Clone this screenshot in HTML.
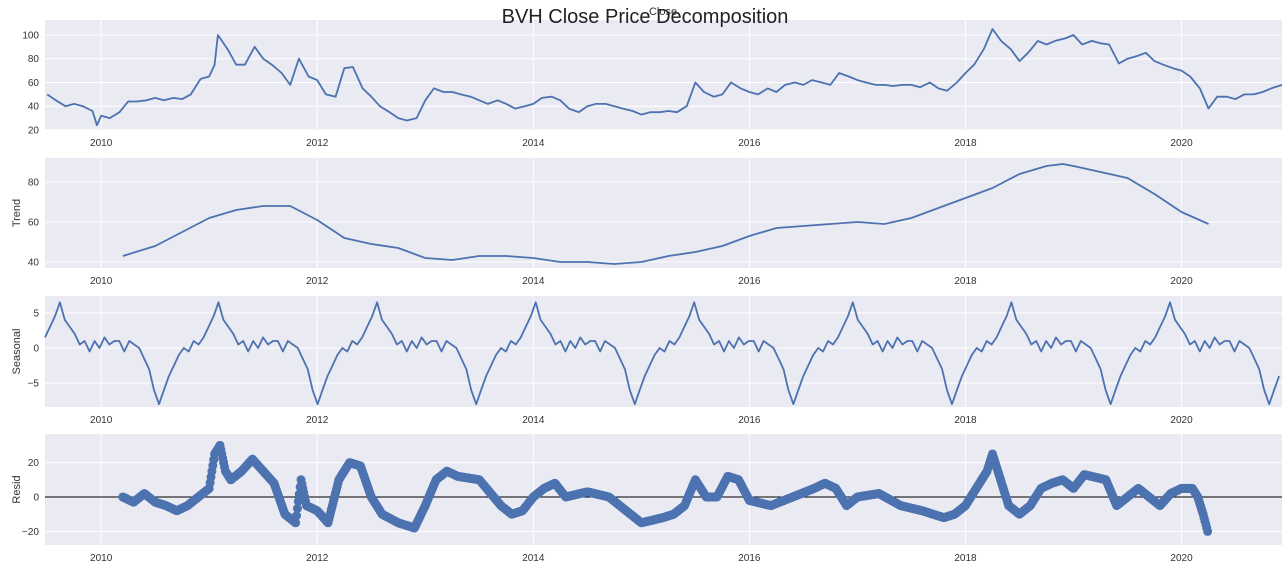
<!DOCTYPE html>
<html><head><meta charset="utf-8"><style>
body{margin:0;background:#fff;width:1288px;height:568px;overflow:hidden;font-family:"Liberation Sans",sans-serif}
svg text{font-family:"Liberation Sans",sans-serif}
</style></head><body>
<svg id="c" width="1288" height="568"></svg>
<script>
const closeYears=[2009.5,2009.58,2009.67,2009.75,2009.83,2009.92,2009.96,2010.0,2010.08,2010.17,2010.25,2010.33,2010.42,2010.5,2010.58,2010.67,2010.75,2010.83,2010.92,2011.0,2011.05,2011.08,2011.17,2011.25,2011.33,2011.42,2011.5,2011.58,2011.67,2011.75,2011.83,2011.92,2012.0,2012.08,2012.17,2012.25,2012.33,2012.42,2012.5,2012.58,2012.67,2012.75,2012.83,2012.92,2013.0,2013.08,2013.17,2013.25,2013.33,2013.42,2013.5,2013.58,2013.67,2013.75,2013.83,2013.92,2014.0,2014.08,2014.17,2014.25,2014.33,2014.42,2014.5,2014.58,2014.67,2014.75,2014.83,2014.92,2015.0,2015.08,2015.17,2015.25,2015.33,2015.42,2015.5,2015.58,2015.67,2015.75,2015.83,2015.92,2016.0,2016.08,2016.17,2016.25,2016.33,2016.42,2016.5,2016.58,2016.67,2016.75,2016.83,2016.92,2017.0,2017.08,2017.17,2017.25,2017.33,2017.42,2017.5,2017.58,2017.67,2017.75,2017.83,2017.92,2018.0,2018.08,2018.17,2018.25,2018.33,2018.42,2018.5,2018.58,2018.67,2018.75,2018.83,2018.92,2019.0,2019.08,2019.17,2019.25,2019.33,2019.42,2019.5,2019.58,2019.67,2019.75,2019.83,2019.92,2020.0,2020.08,2020.17,2020.25,2020.33,2020.42,2020.5,2020.58,2020.67,2020.75,2020.83,2020.93];
const closeVals=[50,45,40,42,40,36,24,32,30,35,44,44,45,47,45,47,46,50,63,65,75,100,88,75,75,90,80,75,68,58,80,65,62,50,48,72,73,55,48,40,35,30,28,30,45,55,52,52,50,48,45,42,45,42,38,40,42,47,48,45,38,35,40,42,42,40,38,36,33,35,35,36,35,40,60,52,48,50,60,55,52,50,55,52,58,60,58,62,60,58,68,65,62,60,58,58,57,58,58,56,60,55,53,60,68,75,88,105,95,88,78,85,95,92,95,97,100,92,95,93,92,76,80,82,85,78,75,72,70,65,55,38,48,48,46,50,50,52,55,58];
const trendYears=[2010.2,2010.5,2010.75,2011.0,2011.25,2011.5,2011.75,2012.0,2012.25,2012.5,2012.75,2013.0,2013.25,2013.5,2013.75,2014.0,2014.25,2014.5,2014.75,2015.0,2015.25,2015.5,2015.75,2016.0,2016.25,2016.5,2016.75,2017.0,2017.25,2017.5,2017.75,2018.0,2018.25,2018.5,2018.75,2018.9,2019.0,2019.25,2019.5,2019.75,2020.0,2020.25];
const trendVals=[43,48,55,62,66,68,68,61,52,49,47,42,41,43,43,42,40,40,39,40,43,45,48,53,57,58,59,60,59,62,67,72,77,84,88,89,88,85,82,74,65,59];
const seasonalCycle=[-8,-6,-4,-2.5,-1,0,-0.5,1,0.5,1.5,3,4.5,6.5,4,3,2,0.5,1,-0.5,1,0,1.5,0.5,1,1,-0.5,1,0.5,0,-1.5,-3,-6];
const seasonStart=2010.55, seasonPeriod=1.468;
const residYears=[2010.2,2010.3,2010.4,2010.5,2010.6,2010.7,2010.8,2010.9,2011.0,2011.05,2011.1,2011.15,2011.2,2011.3,2011.4,2011.5,2011.6,2011.7,2011.8,2011.85,2011.9,2012.0,2012.1,2012.2,2012.3,2012.4,2012.5,2012.6,2012.75,2012.9,2013.0,2013.1,2013.2,2013.3,2013.5,2013.7,2013.8,2013.9,2014.0,2014.1,2014.2,2014.3,2014.5,2014.7,2014.8,2014.9,2015.0,2015.2,2015.3,2015.4,2015.5,2015.6,2015.7,2015.8,2015.9,2016.0,2016.2,2016.4,2016.6,2016.7,2016.8,2016.9,2017.0,2017.2,2017.4,2017.6,2017.8,2017.9,2018.0,2018.1,2018.2,2018.25,2018.3,2018.4,2018.5,2018.6,2018.7,2018.8,2018.9,2019.0,2019.1,2019.3,2019.4,2019.5,2019.6,2019.7,2019.8,2019.9,2020.0,2020.1,2020.15,2020.2,2020.25];
const residVals=[0,-3,2,-3,-5,-8,-5,0,5,25,30,15,10,15,22,15,8,-10,-15,10,-5,-8,-15,10,20,18,0,-10,-15,-18,-5,10,15,12,10,-5,-10,-8,0,5,8,0,3,0,-5,-10,-15,-12,-10,-5,10,0,0,12,10,-2,-5,0,5,8,5,-5,0,2,-5,-8,-12,-10,-5,5,15,25,15,-5,-10,-5,5,8,10,5,13,10,-5,0,5,0,-5,2,5,5,0,-10,-22];
const xTicks=[2010,2012,2014,2016,2018,2020];
const closeTicks=[20,40,60,80,100], trendTicks=[40,60,80], seasTicks=[-5,0,5], residTicks=[-20,0,20];

const svg=document.getElementById('c');const NS='http://www.w3.org/2000/svg';
function mk(t,a,p){const e=document.createElementNS(NS,t);for(const k in a)e.setAttribute(k,a[k]);(p||svg).appendChild(e);return e;}
const X0=45,X1=1282,Y0=2009.48,Y1=2020.93;
const xs=y=>X0+(y-Y0)/(Y1-Y0)*(X1-X0);
const fmt=v=>v<0?'\u2212'+(-v):String(v);
function panel(name,top,bot,vmin,vmax,ticks,label){
  const g=mk('g',{});
  mk('rect',{x:X0,y:top,width:X1-X0,height:bot-top,fill:'#eaeaf2'},g);
  const ys=v=>bot-(v-vmin)/(vmax-vmin)*(bot-top);
  xTicks.forEach(t=>{mk('line',{x1:xs(t),x2:xs(t),y1:top,y2:bot,stroke:'#fff','stroke-width':1},g);
    const tx=mk('text',{x:xs(t),y:bot+16,'font-size':10,fill:'#333','text-anchor':'middle'},g);tx.textContent=t;
    });
  ticks.forEach(t=>{mk('line',{x1:X0,x2:X1,y1:ys(t),y2:ys(t),stroke:'#fff','stroke-width':1},g);
    const tx=mk('text',{x:X0-6,y:ys(t)+3.5,'font-size':10,fill:'#333','text-anchor':'end'},g);tx.textContent=fmt(t);
    });
  if(label){const l=mk('text',{x:20,y:(top+bot)/2,'font-size':11,fill:'#333','text-anchor':'middle',transform:`rotate(-90 20 ${(top+bot)/2})`},g);l.textContent=label;
    }
  return {g,ys};
}
function line(p,xa,va,name){const d=xa.map((x,i)=>(i?'L':'M')+xs(x).toFixed(1)+','+p.ys(va[i]).toFixed(1)).join('');
  const e=mk('path',{d,fill:'none',stroke:'#4c72b0','stroke-width':1.8,'stroke-linejoin':'round'},p.g);
  }
const p1=panel('close-panel',20,130,20,112.6,closeTicks,null);
line(p1,closeYears,closeVals,'close-line');
const p2=panel('trend-panel',158,268,37,92,trendTicks,'Trend');
line(p2,trendYears,trendVals,'trend-line');
const p3=panel('seasonal-panel',296,407,-8.4,7.4,seasTicks,'Seasonal');
const sx=[],sv=[],n=seasonalCycle.length;
for(let k=0;;k++){const y=Y0+k*seasonPeriod/n;if(y>Y1)break;
  let ph=((y-seasonStart)/seasonPeriod)%1;if(ph<0)ph+=1;const idx=Math.round(ph*n)%n;sx.push(y);sv.push(seasonalCycle[idx]);}
line(p3,sx,sv,'seasonal-line');
const p4=panel('resid-panel',434,545,-27.9,36.6,residTicks,'Resid');
const z=mk('line',{x1:X0,x2:X1,y1:p4.ys(0),y2:p4.ys(0),stroke:'#000','stroke-width':1},p4.g);

for(let i=0;i<residYears.length-1;i++){const a=residYears[i],b=residYears[i+1];const steps=Math.max(1,Math.round((b-a)/0.008));
  for(let s=0;s<steps;s++){const f=s/steps;const c=mk('circle',{cx:xs(a+(b-a)*f),cy:p4.ys(residVals[i]+(residVals[i+1]-residVals[i])*f),r:4.5,fill:'#4c72b0'},p4.g);
    }}
const t=mk('text',{x:645,y:23,'font-size':20,fill:'#222','text-anchor':'middle'});t.textContent='BVH Close Price Decomposition';

const t2=mk('text',{x:663,y:15,'font-size':11,fill:'#333','text-anchor':'middle'});t2.textContent='Close';

</script>
</body></html>
